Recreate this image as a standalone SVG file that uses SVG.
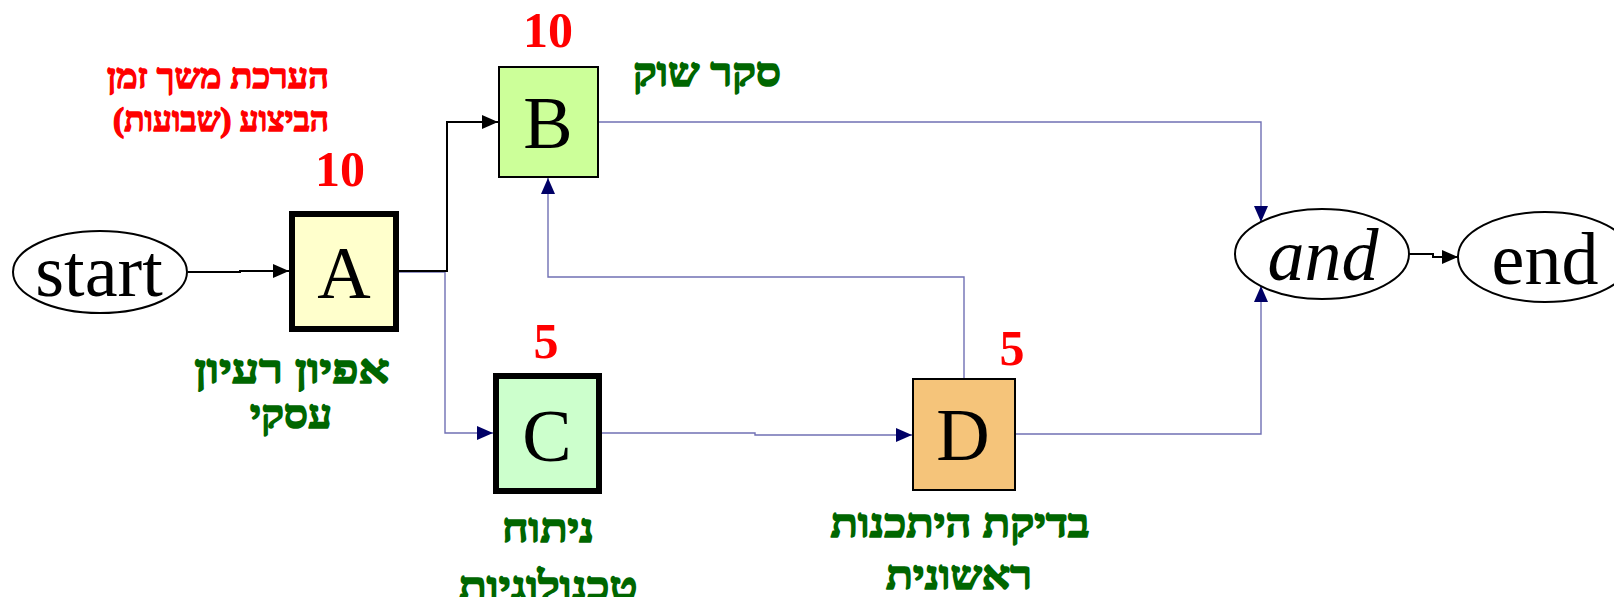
<svg xmlns="http://www.w3.org/2000/svg" width="1614" height="597" viewBox="0 0 1614 597">
  <style>
    .box-letter { font-family: "Liberation Serif", "Times New Roman", serif; font-size: 74px; fill: #000; text-anchor: middle; }
    .oval-text { font-family: "Liberation Serif", "Times New Roman", serif; font-size: 74px; fill: #000; text-anchor: middle; }
    .dur { font-family: "Liberation Serif", "Times New Roman", serif; font-size: 50px; font-weight: bold; fill: #FF0000; text-anchor: middle; }
    .name { font-family: "Liberation Serif", "DejaVu Sans", serif; font-size: 40px; font-weight: bold; fill: #006600; stroke: #006600; stroke-width: 1.6; stroke-linejoin: round; text-anchor: middle; }
    .note { font-family: "Liberation Serif", "DejaVu Sans", serif; font-size: 34px; font-weight: bold; fill: #FF0000; stroke: #FF0000; stroke-width: 1.4; stroke-linejoin: round; text-anchor: middle; }
    .oval { fill: #FFFFFF; stroke: #000; stroke-width: 2; }
    .flow-dark { fill: none; stroke: #000; stroke-width: 2; }
    .flow-light { fill: none; stroke: #7070B4; stroke-width: 1.4; }
  </style>
  <defs>
    <marker id="arrow-black" markerUnits="userSpaceOnUse" markerWidth="16" markerHeight="16" viewBox="0 0 16 16" refX="16" refY="8" orient="auto">
      <path d="M0,1 L16,8 L0,15 z" fill="#000"/>
    </marker>
    <marker id="arrow-navy" markerUnits="userSpaceOnUse" markerWidth="16" markerHeight="16" viewBox="0 0 16 16" refX="16" refY="8" orient="auto">
      <path d="M0,1 L16,8 L0,15 z" fill="#000066"/>
    </marker>
  </defs>

  <rect width="1614" height="597" fill="#FFFFFF"/>

  <!-- heading: duration estimate in weeks -->
  <g id="legend">
    <text class="note" x="218" y="88" direction="rtl" textLength="222" lengthAdjust="spacingAndGlyphs">הערכת משך זמן</text>
    <text class="note" x="221" y="131" direction="rtl" textLength="216" lengthAdjust="spacingAndGlyphs">הביצוע (שבועות)</text>
  </g>

  <!-- connectors -->
  <g id="connectors">
    <path class="flow-light" d="M399,272 H445 V433 H493" marker-end="url(#arrow-navy)"/>
    <path class="flow-light" d="M602,433 H755 V435 H912" marker-end="url(#arrow-navy)"/>
    <path class="flow-light" d="M964,378 V277 H548 V178" marker-end="url(#arrow-navy)"/>
    <path class="flow-light" d="M599,122 H1261 V222" marker-end="url(#arrow-navy)"/>
    <path class="flow-light" d="M1016,434 H1261 V286" marker-end="url(#arrow-navy)"/>
    <path class="flow-dark" d="M188,272 H240 V271 H289" marker-end="url(#arrow-black)"/>
    <path class="flow-dark" d="M399,271 H447 V122 H498" marker-end="url(#arrow-black)"/>
    <path class="flow-dark" d="M1409,254 H1433 V257 H1458" marker-end="url(#arrow-black)"/>
  </g>

  <g id="node-start">
    <ellipse class="oval" cx="100" cy="272" rx="87" ry="41"/>
    <text class="oval-text" x="99" y="296">start</text>
  </g>

  <g id="node-A">
    <rect x="292" y="214" width="104" height="115" fill="#FFFFCC" stroke="#000" stroke-width="6"/>
    <text class="box-letter" x="344" y="298">A</text>
    <text class="dur" x="340" y="186">10</text>
    <text class="name" x="292" y="383" direction="rtl" textLength="195" lengthAdjust="spacingAndGlyphs">אפיון רעיון</text>
    <text class="name" x="291" y="428" direction="rtl" textLength="82" lengthAdjust="spacingAndGlyphs">עסקי</text>
  </g>

  <g id="node-B">
    <rect x="499" y="67" width="99" height="110" fill="#CCFF99" stroke="#000" stroke-width="2"/>
    <text class="box-letter" x="548" y="148">B</text>
    <text class="dur" x="548" y="47">10</text>
    <text class="name" x="707" y="86" direction="rtl" textLength="148" lengthAdjust="spacingAndGlyphs">סקר שוק</text>
  </g>

  <g id="node-C">
    <rect x="496" y="376" width="103" height="115" fill="#CCFFCC" stroke="#000" stroke-width="6"/>
    <text class="box-letter" x="547" y="461">C</text>
    <text class="dur" x="546" y="358">5</text>
    <text class="name" x="548" y="542" direction="rtl" textLength="92" lengthAdjust="spacingAndGlyphs">ניתוח</text>
    <text class="name" x="548" y="600" direction="rtl" textLength="179" lengthAdjust="spacingAndGlyphs">טכנולוגיות</text>
  </g>

  <g id="node-D">
    <rect x="913" y="379" width="102" height="111" fill="#F5C47A" stroke="#000" stroke-width="2"/>
    <text class="box-letter" x="963" y="460">D</text>
    <text class="dur" x="1012" y="365">5</text>
    <text class="name" x="960" y="537" direction="rtl" textLength="259" lengthAdjust="spacingAndGlyphs">בדיקת היתכנות</text>
    <text class="name" x="959" y="589" direction="rtl" textLength="146" lengthAdjust="spacingAndGlyphs">ראשונית</text>
  </g>

  <g id="node-and">
    <ellipse class="oval" cx="1322" cy="254" rx="87" ry="45"/>
    <text class="oval-text" x="1323" y="280" font-style="italic">and</text>
  </g>

  <g id="node-end">
    <ellipse class="oval" cx="1545" cy="257" rx="87" ry="45"/>
    <text class="oval-text" x="1545" y="284">end</text>
  </g>
</svg>
